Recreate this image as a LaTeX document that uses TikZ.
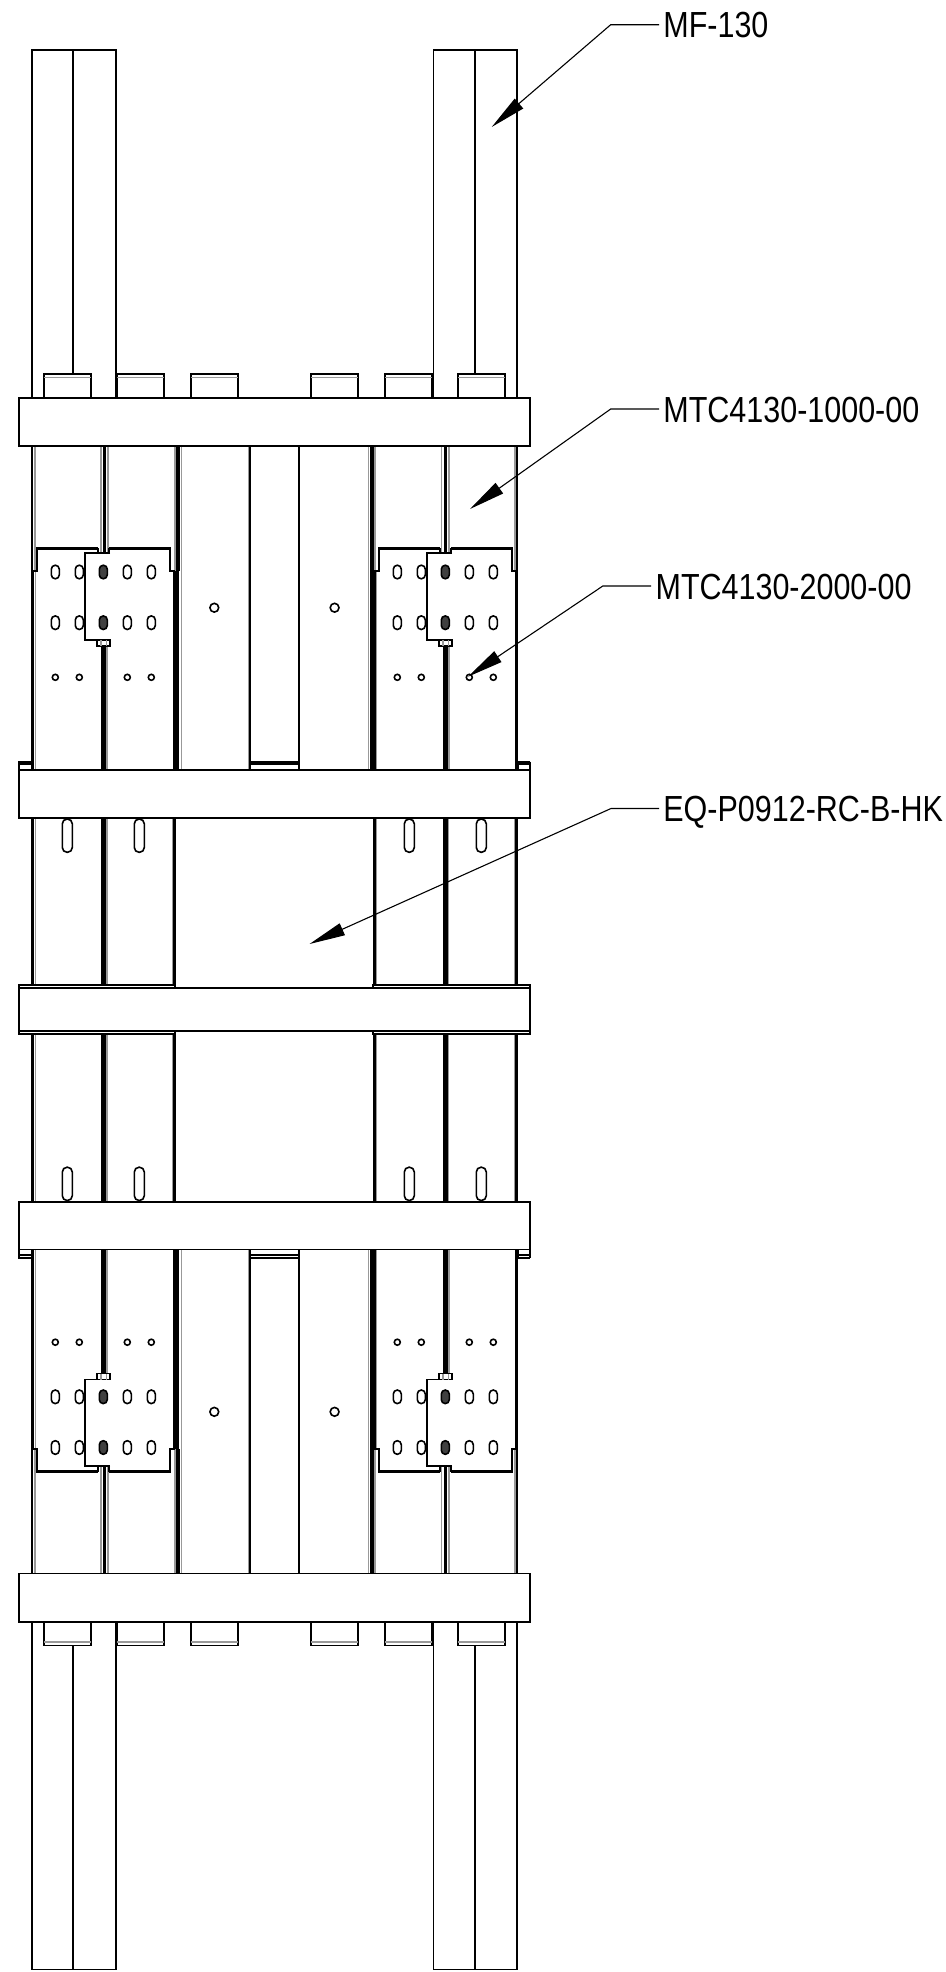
\documentclass[tikz,border=0pt]{standalone}
\usepackage{fontspec}
\usetikzlibrary{arrows.meta}
\newfontfamily\labelfont[FakeStretch=0.84]{Liberation Sans}

\begin{document}
\begin{tikzpicture}[x=0.5pt, y=-0.5pt, line join=miter,
	part/.style={draw=black, line width=0.85pt},
	seam/.style={draw=black!40, line width=0.6pt},
	web/.style={draw=black, line width=#1*0.5pt},
	bar/.style={part, fill=white},
	hole/.style={draw=black, line width=0.8pt, fill=white, rounded corners=2pt},
	plug/.style={draw=black, line width=0.8pt, fill=black!75, rounded corners=2pt},
	tag/.style={anchor=west, inner xsep=2pt, inner ysep=0pt, text height=13pt, text depth=0pt,
		font=\labelfont\fontsize{18.15pt}{20pt}\selectfont},
	leader/.style={draw=black, line width=0.55pt, -{Triangle[length=18pt, width=6.4pt]}}]
	\useasboundingbox (0,0) rectangle (946,1972);

	% Upper half, then the same half turned over
	\foreach \flip/\off in {1/0, -1/2019.5} {
	\begin{scope}[shift={(0,\off)}, yscale=\flip]
		% Posts
		\draw [part] (31.7,50) rectangle (115.7,398);
		\draw [part] (433.5,50) rectangle (517,398);
		\foreach \x in {73, 475}
			\draw [web=2.4] (\x,50) -- (\x,398);

		% Tabs
		\foreach \a/\b in {44/91, 117.3/164.3, 191/238, 311/358.3, 385/431.7, 458.3/505} {
			\draw [bar] (\a,398) -- (\a,374) -- (\b,374) -- (\b,398);
			\draw [seam] (\a,377.5) -- (\b,377.5);
		}

		% Channels
		\foreach \x/\w in {31.7/1.7, 178/4, 372/3.3, 517.3/1.7}
			\draw [web=\w] (\x,446) -- (\x,570.7);
		\foreach \x in {35, 175, 375, 515}
			\draw [seam] (\x,446) -- (\x,570.7);
		\foreach \x/\w in {104.5/3.3, 445.7/3}
			\draw [web=\w] (\x,446) -- (\x,553.3);
		\foreach \x in {101, 108, 441.7, 449}
			\draw [seam] (\x,446) -- (\x,553.3);
		\foreach \x/\w in {32.5/3, 175.7/6, 373/6, 516.5/3}
			\draw [web=\w] (\x,570.7) -- (\x,770);
		\foreach \x/\w in {103.5/5, 445.3/5}
			\draw [web=\w] (\x,646) -- (\x,770);
		\foreach \x in {35.5, 181.5, 368.3, 376.5}
			\draw [seam] (\x,570.7) -- (\x,770);
		\foreach \x in {107, 449}
			\draw [seam] (\x,646) -- (\x,770);
		\foreach \x in {181.5, 248.3, 368.3}
			\draw [seam] (\x,446) -- (\x,770);
		\foreach \x/\w in {250/1.5, 299/1.7}
			\draw [web=\w] (\x,446) -- (\x,770);
		\foreach \x/\w in {32.5/3, 103.5/5, 174.5/3, 374.3/3, 445.3/5, 516.7/3}
			\draw [web=\w] (\x,818) -- (\x,985.3);
		\foreach \x in {35.5, 107, 172.5, 376.5, 448.5, 514.5}
			\draw [seam] (\x,818) -- (\x,985.3);

		% Bands behind the bars
		\foreach \a/\b in {19/31.7, 250/299, 518/530}
			\draw [part] (\a,770) -- (\a,761.7) -- (\b,761.7) (\a,764.2) -- (\b,764.2) (\b,761.7) -- (\b,770);
		\foreach \a/\b in {19/175, 373/530}
			\draw [part] (\a,988.3) -- (\a,985.3) -- (\b,985.3) -- (\b,988.3);

		% Splice plates and their holes
		\foreach \dx in {0, 342} {
			\draw [part] (31.7+\dx,570.7) -- (36.7+\dx,570.7) -- (36.7+\dx,548);
			\draw [part] (175+\dx,570.7) -- (170+\dx,570.7) -- (170+\dx,548);
			\draw [web=3] (36+\dx,548) -- (98.3+\dx,548) (109.3+\dx,548) -- (170.7+\dx,548);
			\draw [part] (98.3+\dx,548) -- (98.3+\dx,553.3) (109.3+\dx,548) -- (109.3+\dx,553.3);
			\draw [part] (110+\dx,553.3) -- (85+\dx,553.3) -- (85+\dx,640) -- (97.3+\dx,640);
			\draw [part, fill=white] (97.3+\dx,640) rectangle (110+\dx,646);
			\draw [seam] (101+\dx,640) -- (101+\dx,646) (106.5+\dx,640) -- (106.5+\dx,646);
			\foreach \x in {55.3, 79.3, 127.3, 151.3} {
				\foreach \y in {572, 622.7}
					\draw [hole] (\x+\dx-4,\y-6.8) rectangle (\x+\dx+4,\y+6.8);
				\draw [part, line width=0.8pt] (\x+\dx,677.3) circle [radius=3];
			}
			\foreach \y in {572, 622.7}
				\draw [plug] (103.3+\dx-4,\y-6.8) rectangle (103.3+\dx+4,\y+6.8);
			\foreach \x in {67.3, 139.3}
				\draw [hole, rounded corners=2.4pt] (\x+\dx-5,819) rectangle (\x+\dx+5,852.3);
		}
		\foreach \x in {214.3, 334.6}
			\draw [part, line width=0.8pt] (\x,607.7) circle [radius=4.4];

		% Cross bars
		\draw [bar] (19,397.7) rectangle (530,446);
		\draw [bar] (19,770) rectangle (530,817.7);
		\draw [bar] (19,988.3) rectangle (530,1031.2);
	\end{scope}
	}

	% Nodes
	\node [tag] (mf)  at (659,24.7)  {MF-130};
	\node [tag] (mtca) at (659,409)  {MTC4130-1000-00};
	\node [tag] (mtcb) at (651.2,586) {MTC4130-2000-00};
	\node [tag] (eq)  at (659,808.5) {EQ-P0912-RC-B-HK};
	\coordinate (mftip)   at (491.7,127);
	\coordinate (mtcatip) at (470,509);
	\coordinate (mtcbtip) at (468,676.7);
	\coordinate (eqtip)   at (309.5,944);

	% Paths
	\draw [leader] (mf.west)   -- ++(-48.3,0) -- (mftip);
	\draw [leader] (mtca.west) -- ++(-48.3,0) -- (mtcatip);
	\draw [leader] (mtcb.west) -- ++(-48.4,0) -- (mtcbtip);
	\draw [leader] (eq.west)   -- ++(-48,0)   -- (eqtip);
\end{tikzpicture}
\end{document}
